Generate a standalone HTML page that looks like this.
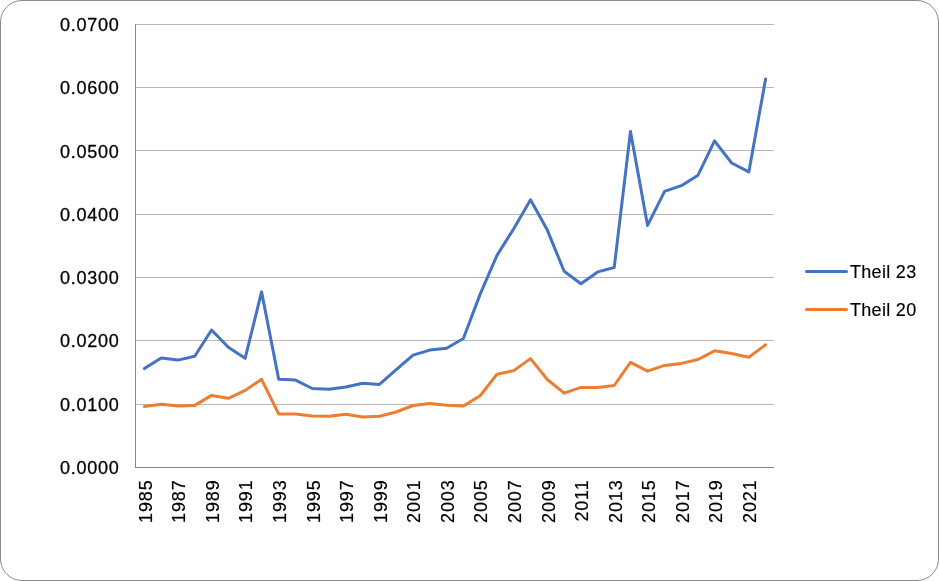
<!DOCTYPE html>
<html><head><meta charset="utf-8"><title>Theil chart</title>
<style>
html,body{margin:0;padding:0;background:#fff;}
#c{position:relative;width:939px;height:581px;overflow:hidden;background:#fff;}
#b{position:absolute;left:0;top:0;width:939px;height:581px;box-sizing:border-box;border:1px solid #8b8b8b;border-radius:22px;}
svg{position:absolute;left:0;top:0;}
.g{stroke:#B7B7B7;stroke-width:1;}
.ax{stroke:#868686;stroke-width:1;}
.s{fill:none;stroke-width:3;stroke-linejoin:round;stroke-linecap:round;}
text{font-family:"Liberation Sans", sans-serif;fill:#000;stroke:#000;stroke-width:0.28px;}
.yl{font-size:18px;text-anchor:end;letter-spacing:0.75px;}
.xl{font-size:18px;text-anchor:end;letter-spacing:0.85px;stroke-width:0.2px;}
.lg{font-size:18px;letter-spacing:0.3px;stroke-width:0.15px;}
</style></head>
<body><div id="c"><div id="b"></div>
<svg width="939" height="581" viewBox="0 0 939 581">
<line x1="136" y1="24.5" x2="774" y2="24.5" class="g"/>
<line x1="136" y1="87.5" x2="774" y2="87.5" class="g"/>
<line x1="136" y1="150.5" x2="774" y2="150.5" class="g"/>
<line x1="136" y1="214.5" x2="774" y2="214.5" class="g"/>
<line x1="136" y1="277.5" x2="774" y2="277.5" class="g"/>
<line x1="136" y1="340.5" x2="774" y2="340.5" class="g"/>
<line x1="136" y1="404.5" x2="774" y2="404.5" class="g"/>
<line x1="135.5" y1="24" x2="135.5" y2="468" class="ax"/>
<line x1="135" y1="467.5" x2="774" y2="467.5" class="ax"/>
<text x="119.5" y="30.9" class="yl">0.0700</text>
<text x="119.5" y="94.2" class="yl">0.0600</text>
<text x="119.5" y="157.5" class="yl">0.0500</text>
<text x="119.5" y="220.8" class="yl">0.0400</text>
<text x="119.5" y="284.0" class="yl">0.0300</text>
<text x="119.5" y="347.3" class="yl">0.0200</text>
<text x="119.5" y="410.6" class="yl">0.0100</text>
<text x="119.5" y="473.9" class="yl">0.0000</text>
<text transform="translate(151.69,479.5) rotate(-90)" class="xl">1985</text>
<text transform="translate(185.27,479.5) rotate(-90)" class="xl">1987</text>
<text transform="translate(218.85,479.5) rotate(-90)" class="xl">1989</text>
<text transform="translate(252.43,479.5) rotate(-90)" class="xl">1991</text>
<text transform="translate(286.01,479.5) rotate(-90)" class="xl">1993</text>
<text transform="translate(319.59,479.5) rotate(-90)" class="xl">1995</text>
<text transform="translate(353.17,479.5) rotate(-90)" class="xl">1997</text>
<text transform="translate(386.75,479.5) rotate(-90)" class="xl">1999</text>
<text transform="translate(420.33,479.5) rotate(-90)" class="xl">2001</text>
<text transform="translate(453.91,479.5) rotate(-90)" class="xl">2003</text>
<text transform="translate(487.48,479.5) rotate(-90)" class="xl">2005</text>
<text transform="translate(521.06,479.5) rotate(-90)" class="xl">2007</text>
<text transform="translate(554.64,479.5) rotate(-90)" class="xl">2009</text>
<text transform="translate(588.22,479.5) rotate(-90)" class="xl">2011</text>
<text transform="translate(621.50,479.5) rotate(-90)" class="xl">2013</text>
<text transform="translate(654.88,479.5) rotate(-90)" class="xl">2015</text>
<text transform="translate(688.66,479.5) rotate(-90)" class="xl">2017</text>
<text transform="translate(721.84,479.5) rotate(-90)" class="xl">2019</text>
<text transform="translate(756.12,479.5) rotate(-90)" class="xl">2021</text>
<polyline points="144.39,368.60 161.18,357.90 177.97,360.10 194.76,356.30 211.55,330.00 228.34,347.20 245.13,358.30 261.57,291.90 278.71,379.20 295.50,380.10 312.29,388.50 329.08,389.20 345.87,387.00 362.66,383.30 379.45,384.40 396.24,369.70 413.03,355.10 429.82,350.10 446.61,348.20 463.39,338.50 480.18,294.10 496.97,255.40 513.76,228.70 530.55,199.80 547.34,230.10 564.13,271.30 580.92,283.70 597.71,271.90 614.20,267.50 630.49,131.40 647.58,225.40 664.57,191.30 681.36,185.70 698.05,175.20 714.54,140.90 731.63,163.00 748.82,171.90 765.61,79.00" class="s" stroke="#4472C4"/>
<polyline points="144.39,406.50 161.18,404.30 177.97,406.10 194.76,405.40 211.55,395.40 228.34,398.30 245.13,390.40 261.57,379.30 278.71,414.00 295.50,414.00 312.29,416.00 329.08,416.20 345.87,414.30 362.66,417.10 379.45,416.30 396.24,412.00 413.03,405.50 429.82,403.50 446.61,405.30 463.39,406.00 480.18,395.70 496.97,374.30 513.76,370.60 530.55,358.60 547.34,379.50 564.13,393.20 580.92,387.40 597.71,387.40 614.20,385.50 630.49,362.40 647.58,371.20 664.57,365.40 681.36,363.40 698.05,359.50 714.54,350.80 731.63,353.50 748.82,357.30 765.61,344.80" class="s" stroke="#ED7D31"/>
<line x1="806.5" y1="271.5" x2="846.5" y2="271.5" class="s" stroke="#4472C4"/>
<line x1="806.5" y1="309.5" x2="846.5" y2="309.5" class="s" stroke="#ED7D31"/>
<text x="850" y="277.6" class="lg">Theil 23</text>
<text x="850" y="316" class="lg">Theil 20</text>
</svg></div></body></html>
